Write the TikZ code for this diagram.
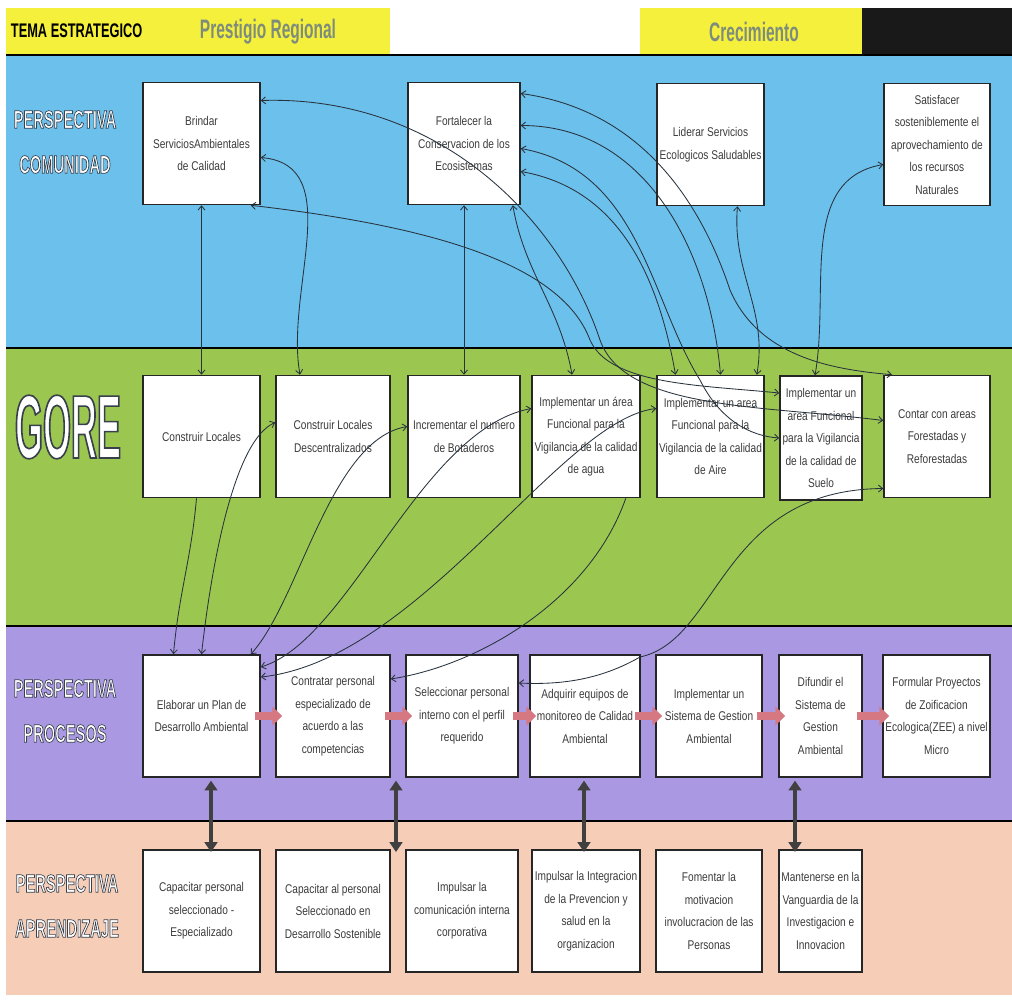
\documentclass[tikz,border=0pt]{standalone}
\usepackage{fontspec}
\usetikzlibrary{arrows.meta,calc}
\setmainfont{Liberation Sans}[FakeStretch=0.8]
\newfontfamily\temafont{Liberation Sans}[FakeStretch=0.65]
\newfontfamily\headfont{Liberation Sans}[FakeStretch=0.58]
\newfontfamily\labfont{Liberation Sans Bold}[FakeStretch=0.58, FakeBold=2.6]
\newfontfamily\gorefont{Liberation Sans Bold}[FakeStretch=0.4, FakeBold=1.8]
\newcommand{\pxu}{0.025cm}
\newcommand{\outlinepen}{\special{pdf:literal direct 0.22 0.25 0.3 RG}}

\definecolor{bandblue}{RGB}{108,192,236}
\definecolor{bandgreen}{RGB}{155,199,80}
\definecolor{bandlila}{RGB}{170,152,226}
\definecolor{bandpeach}{RGB}{246,206,184}
\definecolor{headyellow}{RGB}{245,240,60}
\definecolor{headtxt}{RGB}{125,140,125}
\definecolor{boxtxt}{RGB}{60,60,60}
\definecolor{flowpink}{RGB}{214,120,130}
\definecolor{linkgray}{RGB}{40,50,60}

\tikzset{
  box/.style={draw=black!85, line width=1.1pt, fill=white, text=boxtxt, align=center,
    inner sep=1pt, minimum height=122*\pxu},
  lab/.style={text=white, align=center, font=\labfont\fontsize{18}{32}\selectfont},
  link/.style={draw=linkgray, line width=0.6pt, >={Straight Barb[length=3pt,width=5pt]}},
  flow/.style={draw=flowpink, line width=5pt, -{Triangle[length=7pt,width=13pt]},
    shorten <=-4pt, shorten >=-5pt},
  both/.style={draw=black!75, line width=2.6pt,
    {Triangle[length=7pt,width=9pt]}-{Triangle[length=7pt,width=9pt]}, shorten <=2pt, shorten >=-2pt}
}

\begin{document}
\begin{tikzpicture}[x=\pxu, y=-\pxu, font=\fontsize{9}{16}\selectfont]
        \useasboundingbox (0,0) rectangle (1012,999);
        % bands
        \fill[white] (0,0) rectangle (1012,999);
        \fill[headyellow] (6,8) rectangle (390,55);
        \fill[headyellow] (640,8) rectangle (862,55);
        \fill[black!90] (862,8) rectangle (1012,55);
        \fill[bandblue] (6,55) rectangle (1012,348);
        \fill[bandgreen] (6,348) rectangle (1012,626);
        \fill[bandlila] (6,626) rectangle (1012,821);
        \fill[bandpeach] (6,821) rectangle (1012,995);
        \draw[line width=1.6pt] (6,55) -- (1012,55);
        \draw[line width=1.6pt] (6,348) -- (1012,348);
        \draw[line width=1.6pt] (6,626) -- (1012,626);
        \draw[line width=1.6pt] (6,821) -- (1012,821);

        \node[anchor=west, font=\temafont\bfseries\fontsize{14}{14}\selectfont] (tema) at (6,31) {TEMA ESTRATEGICO};
        \node[text=headtxt, font=\headfont\bfseries\fontsize{19}{19}\selectfont] (prestigio) at (268,32) {Prestigio Regional};
        \node[text=headtxt, font=\headfont\bfseries\fontsize{19}{19}\selectfont] (crecim) at (754,32) {Crecimiento};

        \node[lab] (comunidad) at (65,142) {\outlinepen PERSPECTIVA\\\outlinepen COMUNIDAD};
        \node[text=white, font=\gorefont\fontsize{64}{64}\selectfont] (gore) at (68,427) {\outlinepen GORE};
        \node[lab] (procesos) at (65,711) {\outlinepen PERSPECTIVA\\\outlinepen PROCESOS};
        \node[lab] (aprendizaje) at (67,906) {\outlinepen PERSPECTIVA\\\outlinepen APRENDIZAJE};

        % comunidad
        \node[box, minimum width=117*\pxu] (C1) at (201.5,143.5) {Brindar\\ServiciosAmbientales\\de Calidad};
        \node[box, minimum width=112*\pxu] (C2) at (464,143.5) {Fortalecer la\\Conservacion de los\\Ecosistemas};
        \node[box, minimum width=107*\pxu] (C3) at (710.5,144.5) {Liderar Servicios\\Ecologicos Saludables};
        \node[box, minimum width=106*\pxu] (C4) at (937,144.5) {Satisfacer\\sosteniblemente el\\aprovechamiento de\\los recursos\\Naturales};

        % gore
        \node[box, minimum width=117*\pxu] (G1) at (201.5,436.5) {Construir Locales};
        \node[box, minimum width=114*\pxu] (G2) at (333,436.5) {Construir Locales\\Descentralizados};
        \node[box, minimum width=112*\pxu] (G3) at (464,436.5) {Incrementar el numero\\de Botaderos};
        \node[box, minimum width=108*\pxu] (G4) at (586,436.5) {Implementar un área\\Funcional para la\\Vigilancia de la calidad\\de agua};
        \node[box, minimum width=107*\pxu] (G5) at (710.5,436.5) {Implementar un area\\Funcional para la\\Vigilancia de la calidad\\de Aire};
        \node[box, minimum width=82*\pxu, minimum height=124*\pxu] (G6) at (821,438) {Implementar un\\area Funcional\\para la Vigilancia\\de la calidad de\\Suelo};
        \node[box, minimum width=106*\pxu] (G7) at (937,436.5) {Contar con areas\\Forestadas y\\Reforestadas};

        % procesos
        \node[box, minimum width=117*\pxu] (P1) at (201.5,716) {Elaborar un Plan de\\Desarrollo Ambiental};
        \node[box, minimum width=114*\pxu] (P2) at (333,716) {Contratar personal\\especializado de\\acuerdo a las\\competencias};
        \node[box, minimum width=112*\pxu] (P3) at (462,716) {Seleccionar personal\\interno con el perfil\\requerido};
        \node[box, minimum width=110*\pxu] (P4) at (585,716) {Adquirir equipos de\\monitoreo de Calidad\\Ambiental};
        \node[box, minimum width=106*\pxu] (P5) at (709,716) {Implementar un\\Sistema de Gestion\\Ambiental};
        \node[box, minimum width=83*\pxu] (P6) at (820.5,716) {Difundir el\\Sistema de\\Gestion\\Ambiental};
        \node[box, minimum width=107*\pxu] (P7) at (936.5,716) {Formular Proyectos\\de Zoificacion\\Ecologica(ZEE) a nivel\\Micro};

        % aprendizaje
        \node[box, minimum width=117*\pxu] (A1) at (201.5,911) {Capacitar personal\\seleccionado -\\Especializado};
        \node[box, minimum width=114*\pxu] (A2) at (333,911) {Capacitar al personal\\Seleccionado en\\Desarrollo Sostenible};
        \node[box, minimum width=112*\pxu] (A3) at (462,911) {Impulsar la\\comunicación interna\\corporativa};
        \node[box, minimum width=108*\pxu] (A4) at (586,911) {Impulsar la Integracion\\de la Prevencion y\\salud en la\\organizacion};
        \node[box, minimum width=106*\pxu] (A5) at (709,911) {Fomentar la\\motivacion\\involucracion de las\\Personas};
        \node[box, minimum width=83*\pxu] (A6) at (820.5,911) {Mantenerse en la\\Vanguardia de la\\Investigacion e\\Innovacion};

        % comunidad - gore
        \draw[link, <->] (C1) -- (G1);
        \draw[link, <->] (C2) -- (G3);
        \draw[link, <->] ($(C1.east)+(0,14)$) to[out=-5, in=100] ($(G2.north)+(-33,0)$);
        \draw[link, <->] ($(C1.east)+(0,-43)$) .. controls (440,95) and (560,220) .. (600,340) .. controls (625,410) and (760,405) .. ($(G7.west)+(0,-16)$);
        \draw[link, <->] ($(C1.south east)+(-10,0)$) .. controls (420,225) and (560,260) .. (590,340) .. controls (610,385) and (700,385) .. ($(G6.west)+(0,-45)$);
        \draw[link, <->] ($(C2.east)+(0,-50)$) .. controls (640,110) and (700,200) .. (730,290) .. controls (760,360) and (840,370) .. ($(G7.north)+(-45,0)$);
        \draw[link, <->] ($(C2.east)+(0,-18)$) to[out=0, in=95] ($(G5.north)+(10,0)$);
        \draw[link, <->] ($(C2.east)+(0,5)$) .. controls (640,170) and (650,300) .. (700,380) .. controls (720,420) and (750,436) .. (G6.west);
        \draw[link, <->] ($(C2.east)+(0,28)$) to[out=-10, in=100] ($(G5.north)+(-35,0)$);
        \draw[link, <->] ($(C2.south east)+(-8,0)$) to[out=-80, in=100] ($(G4.north)+(-14,0)$);
        \draw[link, <->] ($(C3.south)+(27,0)$) to[out=-95, in=80] ($(G5.north east)+(-8,0)$);
        \draw[link, <->] ($(C4.west)+(0,20)$) to[out=190, in=80] ($(G6.north)+(-6,0)$);

        % gore - procesos
        \draw[link, ->] ($(G1.south)+(-5,0)$) to[out=-95, in=85] ($(P1.north)+(-28,0)$);
        \draw[link, <->] (P1.north) .. controls (212,560) and (235,440) .. ($(G2.west)+(0,-14)$);
        \draw[link, <->] ($(P1.north east)+(-10,0)$) .. controls (300,600) and (330,440) .. ($(G3.west)+(0,-10)$);
        \draw[link, <->] ($(P1.east)+(0,-49)$) .. controls (350,640) and (420,430) .. ($(G4.west)+(0,-28)$);
        \draw[link, <->] ($(P1.east)+(0,-39)$) .. controls (420,660) and (560,420) .. ($(G5.west)+(0,-28)$);
        \draw[link, ->] ($(G4.south east)+(-15,0)$) .. controls (590,600) and (480,665) .. ($(P2.east)+(0,-37)$);
        \draw[link, <->] ($(G7.west)+(0,52)$) .. controls (720,490) and (720,640) .. (640,657) .. controls (600,680) and (560,685) .. ($(P3.east)+(0,-33)$);

        % procesos
        \draw[flow] (P1.east) -- (P2.west);
        \draw[flow] (P2.east) -- (P3.west);
        \draw[flow] (P3.east) -- (P4.west);
        \draw[flow] (P4.east) -- (P5.west);
        \draw[flow] (P5.east) -- (P6.west);
        \draw[flow] (P6.east) -- (P7.west);

        % procesos - aprendizaje
        \coordinate (d1) at (211,0);
        \coordinate (d2) at (396,0);
        \coordinate (d3) at (584,0);
        \coordinate (d4) at (795,0);
        \draw[both] (P1.south -| d1) -- (A1.north -| d1);
        \draw[both] (P2.south -| d2) -- (A2.north -| d2);
        \draw[both] (P4.south -| d3) -- (A4.north -| d3);
        \draw[both] (P6.south -| d4) -- (A6.north -| d4);
\end{tikzpicture}
\end{document}
